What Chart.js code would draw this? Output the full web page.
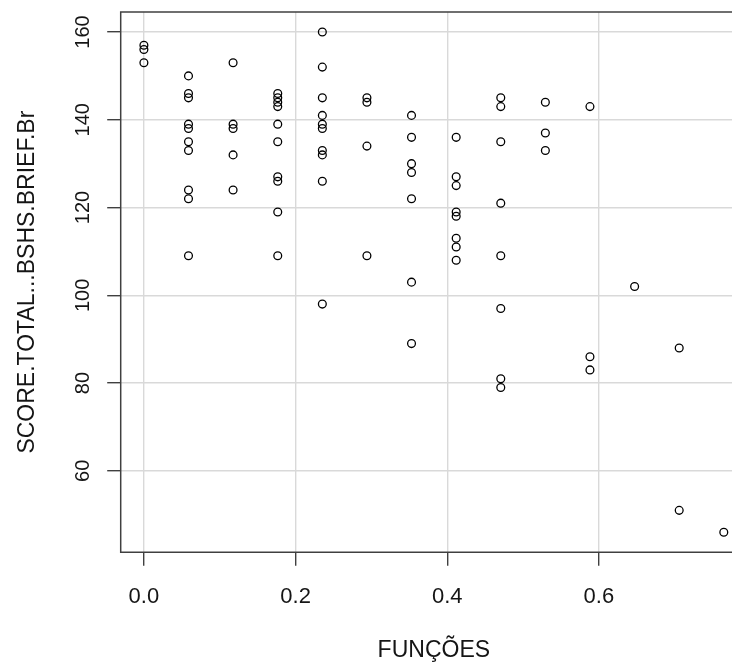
<!DOCTYPE html>
<html>
<head>
<meta charset="utf-8">
<script src="https://cdn.jsdelivr.net/npm/chart.js@4/dist/chart.umd.min.js"></script>
<style>
    html, body { margin: 0; padding: 0; background: #fff; overflow: hidden; }
    #wrap { width: 732px; height: 663px; overflow: hidden; position: relative; }
    canvas { display: block; }
</style>
</head>
<body>
<div id="wrap"><canvas id="scatter" width="760" height="663"></canvas></div>
<script>
// FUNÇÕES (x) and SCORE (y), one entry per point
const funcoes = [
    0, 0, 0,
    0.0588, 0.0588, 0.0588, 0.0588, 0.0588, 0.0588, 0.0588, 0.0588, 0.0588, 0.0588,
    0.1176, 0.1176, 0.1176, 0.1176, 0.1176,
    0.1765, 0.1765, 0.1765, 0.1765, 0.1765, 0.1765, 0.1765, 0.1765, 0.1765, 0.1765,
    0.2353, 0.2353, 0.2353, 0.2353, 0.2353, 0.2353, 0.2353, 0.2353, 0.2353, 0.2353,
    0.2941, 0.2941, 0.2941, 0.2941,
    0.3529, 0.3529, 0.3529, 0.3529, 0.3529, 0.3529, 0.3529,
    0.4118, 0.4118, 0.4118, 0.4118, 0.4118, 0.4118, 0.4118, 0.4118,
    0.4706, 0.4706, 0.4706, 0.4706, 0.4706, 0.4706, 0.4706, 0.4706,
    0.5294, 0.5294, 0.5294,
    0.5882, 0.5882, 0.5882,
    0.6471,
    0.7059, 0.7059,
    0.7647
];
const score = [
    157, 156, 153,
    150, 146, 145, 139, 138, 135, 133, 124, 122, 109,
    153, 139, 138, 132, 124,
    146, 145, 144, 143, 139, 135, 127, 126, 119, 109,
    160, 152, 145, 141, 139, 138, 133, 132, 126, 98,
    145, 144, 134, 109,
    141, 136, 130, 128, 122, 103, 89,
    136, 127, 125, 119, 118, 113, 111, 108,
    145, 143, 135, 121, 109, 97, 81, 79,
    144, 137, 133,
    143, 86, 83,
    102,
    88, 51,
    46
];
const xTicks = [0, 0.2, 0.4, 0.6];
const yTicks = [60, 80, 100, 120, 140, 160];
const xLabels = ['0.0', '0.2', '0.4', '0.6'];
const yLabels = ['60', '80', '100', '120', '140', '160'];
const xTitle = 'FUNÇÕES';
const yTitle = 'SCORE.TOTAL...BSHS.BRIEF.Br';

const points = funcoes.map((x, i) => ({ x: x, y: score[i] }));
const FONT = '"Liberation Sans", Arial, sans-serif';

// box, tick labels and axis titles drawn the way base R does it
// (the right side of the R box falls outside the 732px picture)
const rAxes = {
    id: 'rAxes',
    afterDatasetsDraw(chart) {
        const ctx = chart.ctx;
        const a = chart.chartArea;
        const xs = chart.scales.x;
        const ys = chart.scales.y;
        ctx.save();
        ctx.strokeStyle = '#404040';
        ctx.lineWidth = 1.5;
        ctx.beginPath();
        ctx.moveTo(chart.width, a.top);
        ctx.lineTo(a.left, a.top);
        ctx.lineTo(a.left, a.bottom);
        ctx.lineTo(chart.width, a.bottom);
        ctx.stroke();

        ctx.fillStyle = '#151515';
        ctx.font = '22px ' + FONT;
        ctx.textAlign = 'center';
        ctx.textBaseline = 'alphabetic';
        xTicks.forEach((v, i) => {
            ctx.fillText(xLabels[i], xs.getPixelForValue(v), 602.5);
        });
        ctx.font = '23px ' + FONT;
        ctx.fillText(xTitle, (a.left + a.right) / 2, 656.5);

        yTicks.forEach((v, i) => {
            ctx.save();
            ctx.translate(88.5, ys.getPixelForValue(v));
            ctx.rotate(-Math.PI / 2);
            ctx.font = '20px ' + FONT;
            ctx.fillText(yLabels[i], 0, 0);
            ctx.restore();
        });

        ctx.save();
        ctx.translate(33.5, (a.top + a.bottom) / 2);
        ctx.rotate(-Math.PI / 2);
        ctx.font = '23px ' + FONT;
        ctx.fillText(yTitle, 0, 0);
        ctx.restore();
        ctx.restore();
    }
};

const config = {
    type: 'scatter',
    data: {
        datasets: [{
            data: points,
            pointStyle: 'circle',
            pointRadius: 3.9,
            pointHoverRadius: 3.9,
            borderColor: '#000',
            borderWidth: 1.3,
            backgroundColor: 'rgba(0,0,0,0)'
        }]
    },
    options: {
        responsive: false,
        animation: false,
        events: [],
        layout: { padding: { left: 0, top: 12, right: 13, bottom: 0 } },
        plugins: {
            legend: { display: false },
            tooltip: { enabled: false }
        },
        scales: {
            x: {
                type: 'linear',
                min: -0.0306,
                max: 0.7953,
                afterBuildTicks: (s) => { s.ticks = xTicks.map(v => ({ value: v })); },
                afterFit: (s) => { s.height = 110.7; },
                ticks: { display: false },
                border: { display: false },
                grid: {
                    color: '#d9d9d9',
                    lineWidth: 1.4,
                    tickColor: '#404040',
                    tickLength: 13.5,
                    drawTicks: true
                }
            },
            y: {
                type: 'linear',
                min: 41.44,
                max: 164.56,
                afterBuildTicks: (s) => { s.ticks = yTicks.map(v => ({ value: v })); },
                afterFit: (s) => { s.width = 120.7; },
                ticks: { display: false },
                border: { display: false },
                grid: {
                    color: '#d9d9d9',
                    lineWidth: 1.4,
                    tickColor: '#404040',
                    tickLength: 13.5,
                    drawTicks: true
                }
            }
        }
    },
    plugins: [rAxes]
};

window.onload = function () {
    const ctx = document.getElementById('scatter').getContext('2d');
    new Chart(ctx, config);
};
</script>
</body>
</html>
